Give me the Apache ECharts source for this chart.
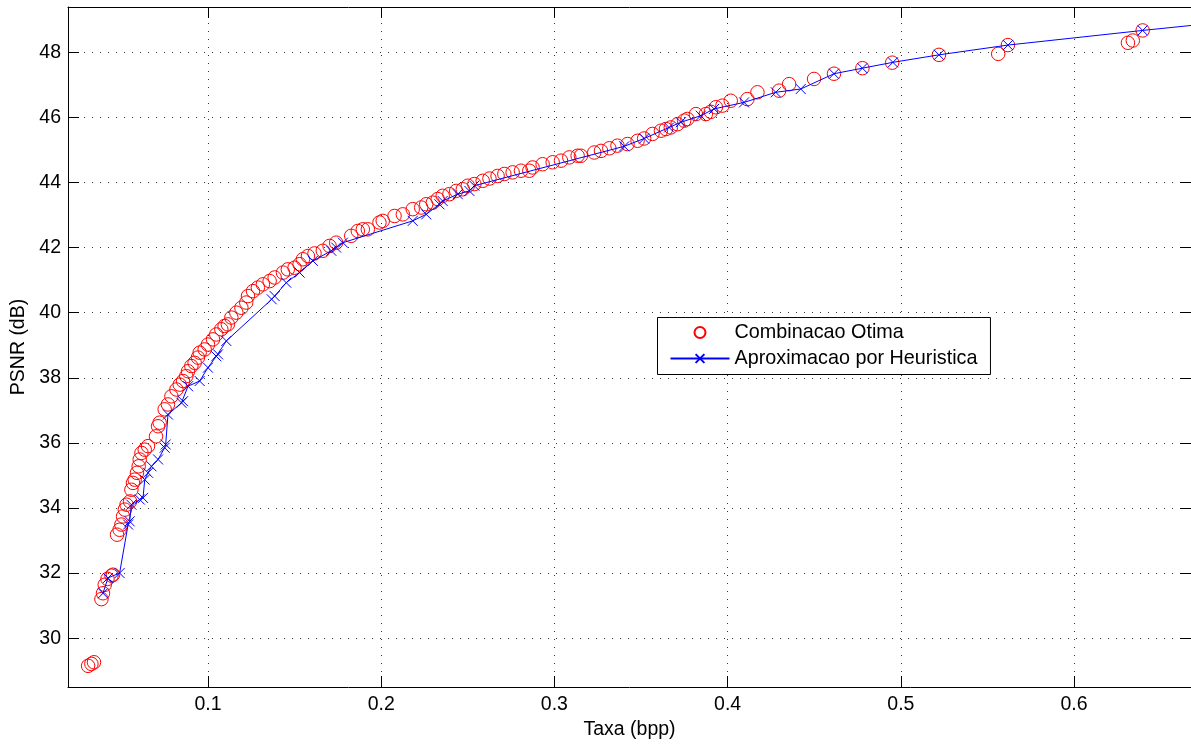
<!DOCTYPE html>
<html>
<head>
<meta charset="utf-8">
<script src="https://cdn.jsdelivr.net/npm/echarts@6/dist/echarts.min.js"></script>
<style>
  html, body { margin: 0; padding: 0; background: #fff; }
  #chart { width: 1191px; height: 745px; }
</style>
</head>
<body>
<div id="chart"></div>
<script>
// Optimal combination (red circles): rate in bpp and PSNR in dB
const rateOtima = [
  0.0308, 0.0327, 0.0342,
  0.0385, 0.0394, 0.0404, 0.0420, 0.0443, 0.0452,
  0.0475, 0.0490, 0.0500, 0.0510, 0.0520, 0.0530, 0.0550, 0.0558, 0.0567, 0.0577,
  0.0590, 0.0600, 0.0606, 0.0616, 0.0635, 0.0654, 0.0700, 0.0712, 0.0721, 0.0750,
  0.0769, 0.0789, 0.0818, 0.0837, 0.0856, 0.0875, 0.0885, 0.0904, 0.0923, 0.0942,
  0.0952, 0.0981, 0.1000, 0.1029, 0.1048, 0.1077, 0.1096, 0.1115, 0.1135, 0.1164,
  0.1193, 0.1221, 0.1231, 0.1260, 0.1288, 0.1317, 0.1356, 0.1385, 0.1433, 0.1461,
  0.1500, 0.1529, 0.1548, 0.1577, 0.1615, 0.1663, 0.1702, 0.1740, 0.1827, 0.1865,
  0.1894, 0.1923, 0.1990, 0.2009, 0.2077, 0.2125, 0.2182, 0.2231, 0.2260, 0.2298,
  0.2326, 0.2355, 0.2394, 0.2433, 0.2471, 0.2500, 0.2538, 0.2586, 0.2625, 0.2672,
  0.2711, 0.2759, 0.2807, 0.2855, 0.2874, 0.2932, 0.2990, 0.3038, 0.3086, 0.3134,
  0.3153, 0.3230, 0.3269, 0.3317, 0.3364, 0.3422, 0.3480, 0.3518, 0.3566, 0.3615,
  0.3644, 0.3672, 0.3711, 0.3749, 0.3768, 0.3817, 0.3874, 0.3903, 0.3932, 0.3970,
  0.4018, 0.4114, 0.4172, 0.4297, 0.4355, 0.4499, 0.4614, 0.4778, 0.4950, 0.5220,
  0.5562, 0.5618, 0.6311, 0.6339, 0.6396
];
const psnrOtima = [
  29.15, 29.21, 29.26,
  31.20, 31.38, 31.64, 31.82, 31.92, 31.95,
  33.18, 33.33, 33.49, 33.74, 33.95, 34.10, 34.20, 34.56, 34.77, 34.87,
  35.08, 35.28, 35.49, 35.69, 35.79, 35.90, 36.20, 36.51, 36.62, 37.03,
  37.18, 37.43, 37.64, 37.79, 37.90, 38.05, 38.20, 38.36, 38.46, 38.62,
  38.77, 38.87, 39.02, 39.18, 39.33, 39.49, 39.59, 39.64, 39.85, 40.00,
  40.15, 40.31, 40.51, 40.66, 40.77, 40.87, 40.97, 41.08, 41.23, 41.33,
  41.38, 41.49, 41.64, 41.74, 41.82, 41.90, 42.05, 42.15, 42.36, 42.51,
  42.56, 42.56, 42.77, 42.82, 42.97, 43.02, 43.18, 43.23, 43.33, 43.38,
  43.49, 43.59, 43.64, 43.74, 43.79, 43.90, 43.95, 44.05, 44.12, 44.20,
  44.26, 44.31, 44.36, 44.36, 44.46, 44.56, 44.62, 44.67, 44.77, 44.82,
  44.82, 44.92, 44.97, 45.05, 45.13, 45.18, 45.28, 45.35, 45.49, 45.59,
  45.64, 45.69, 45.79, 45.90, 45.95, 46.10, 46.10, 46.17, 46.31, 46.36,
  46.51, 46.56, 46.77, 46.82, 47.02, 47.18, 47.34, 47.51, 47.68, 47.92,
  47.95, 48.22, 48.29, 48.36, 48.67
];

// Heuristic approximation (blue line with x markers)
const rateHeur = [
  0.0394, 0.0423, 0.0490, 0.0539, 0.0548, 0.0558, 0.0606, 0.0625, 0.0635, 0.0654,
  0.0674, 0.0712, 0.0750, 0.0756, 0.0769, 0.0847, 0.0856, 0.0885, 0.0952, 0.1000,
  0.1048, 0.1058, 0.1106, 0.1368, 0.1385, 0.1452, 0.1529, 0.1606, 0.1712, 0.1740,
  0.1779, 0.2182, 0.2260, 0.2336, 0.2355, 0.2442, 0.2509, 0.2538, 0.3403, 0.3518,
  0.3662, 0.3730, 0.3845, 0.3922, 0.4095, 0.4278, 0.4422, 0.4614, 0.4778, 0.4954,
  0.5220, 0.5618, 0.6396, 0.7000
];
const psnrHeur = [
  31.38, 31.85, 32.00, 33.49, 33.59, 34.10, 34.26, 34.31, 34.87, 35.08,
  35.28, 35.49, 35.85, 35.95, 36.87, 37.23, 37.28, 37.74, 37.90, 38.31,
  38.66, 38.72, 39.13, 40.41, 40.51, 40.92, 41.23, 41.59, 41.90, 42.00,
  42.15, 42.82, 43.02, 43.33, 43.43, 43.64, 43.74, 43.90, 45.11, 45.35,
  45.69, 45.85, 46.05, 46.26, 46.46, 46.77, 46.87, 47.34, 47.51, 47.69,
  47.92, 48.22, 48.67, 49.00
];

// Tick positions on both axes
const xTicks = [0.1, 0.2, 0.3, 0.4, 0.5, 0.6];
const yTicks = [30, 32, 34, 36, 38, 40, 42, 44, 46, 48];

const FONT = "'Liberation Sans', Arial, Helvetica, sans-serif";
const X_MIN = 0.0192, X_MAX = 0.6675;
const Y_MIN = 28.50, Y_MAX = 49.39;

const otimaPoints = rateOtima.map((r, i) => [r, psnrOtima[i]]);
const heurPoints = rateHeur.map((r, i) => [r, psnrHeur[i]]);

const gridDots = { show: true, lineStyle: { color: '#333', width: 1, type: [1, 7] } };
const blackLine = { show: true, onZero: false, lineStyle: { color: '#000', width: 1 } };

function boxAxis(position, ticks, min, max) {
  return {
    type: 'value', position, min, max,
    axisLine: blackLine,
    axisTick: { show: true, inside: true, length: 11, customValues: ticks, lineStyle: { color: '#000' } },
    axisLabel: { show: false, customValues: ticks },
    splitLine: { show: false }
  };
}

const chart = echarts.init(document.getElementById('chart'), null, { renderer: 'canvas' });

chart.setOption({
  animation: false,
  backgroundColor: '#fff',
  textStyle: { fontFamily: FONT },
  grid: { left: 68, top: 7, width: 1124, height: 680, containLabel: false },
  legend: {
    orient: 'vertical',
    left: 657.5, top: 317.5,
    padding: [5, 13, 6, 12],
    itemGap: 6,
    itemWidth: 59,
    itemHeight: 11,
    borderColor: '#000',
    borderWidth: 1,
    backgroundColor: '#fff',
    textStyle: { fontSize: 19.8, color: '#000', fontFamily: FONT },
    data: ['Combinacao Otima', 'Aproximacao por Heuristica']
  },
  xAxis: [
    {
      type: 'value', position: 'bottom', min: X_MIN, max: X_MAX,
      name: 'Taxa (bpp)', nameLocation: 'middle', nameGap: 32,
      nameTextStyle: { fontSize: 19.5, color: '#000', fontFamily: FONT },
      axisLine: blackLine,
      axisTick: { show: true, inside: true, length: 11, customValues: xTicks, lineStyle: { color: '#000' } },
      axisLabel: { customValues: xTicks, margin: 8, fontSize: 19.5, color: '#000', fontFamily: FONT,
                   formatter: v => String(v) },
      splitLine: gridDots
    },
    boxAxis('top', xTicks, X_MIN, X_MAX)
  ],
  yAxis: [
    {
      type: 'value', position: 'left', min: Y_MIN, max: Y_MAX,
      name: 'PSNR (dB)', nameLocation: 'middle', nameGap: 36, nameRotate: 90,
      nameTextStyle: { fontSize: 19.5, color: '#000', fontFamily: FONT },
      axisLine: blackLine,
      axisTick: { show: true, inside: true, length: 11, customValues: yTicks, lineStyle: { color: '#000' } },
      axisLabel: { customValues: yTicks, margin: 7, fontSize: 19.5, color: '#000', fontFamily: FONT,
                   formatter: v => String(v) },
      splitLine: gridDots
    },
    boxAxis('right', yTicks, Y_MIN, Y_MAX)
  ],
  series: [
    {
      name: 'Combinacao Otima',
      type: 'scatter',
      xAxisIndex: 0, yAxisIndex: 0,
      data: otimaPoints,
      symbol: 'circle',
      symbolSize: 13.5,
      clip: true,
      itemStyle: { color: 'rgba(255,255,255,0)', borderColor: '#ff0000', borderWidth: 1, opacity: 1 },
      z: 3
    },
    {
      name: 'Aproximacao por Heuristica',
      type: 'line',
      xAxisIndex: 0, yAxisIndex: 0,
      data: heurPoints,
      symbol: 'path://M0,0L10,10M10,0L0,10',
      symbolSize: 10,
      showSymbol: true,
      showAllSymbol: true,
      clip: true,
      lineStyle: { color: '#0000ff', width: 1 },
      itemStyle: { color: '#0000ff', borderColor: '#0000ff', borderWidth: 1 },
      z: 4
    }
  ]
});
</script>
</body>
</html>
